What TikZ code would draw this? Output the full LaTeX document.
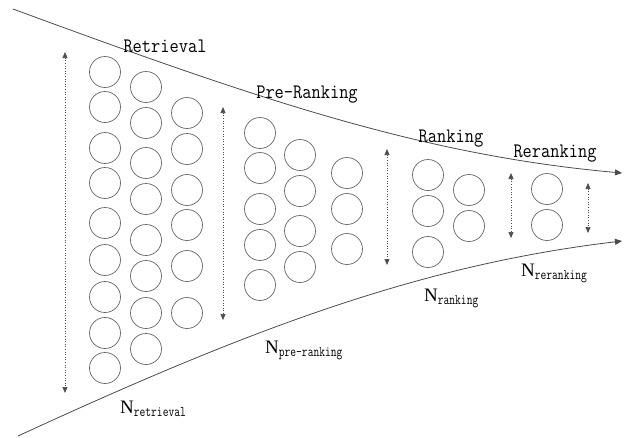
\documentclass[tikz,border=0pt]{standalone}
\usepackage{fontspec}
\setmainfont{Liberation Serif}
\usetikzlibrary{arrows.meta}
\newcommand{\stagetext}[1]{\scalebox{1}[1.15]{\ttfamily\fontsize{17.9}{20}\selectfont #1}}
\newcommand{\counttext}[1]{{\fontsize{19}{20}\selectfont N}\raisebox{-3pt}{\scalebox{1}[1.3]{\ttfamily\fontsize{11.2}{13}\selectfont #1}}}
\begin{document}
\begin{tikzpicture}[x=1pt,y=-1pt,
  ball/.style={circle,draw=black!60,line width=0.7pt,minimum size=31pt,inner sep=0pt},
  funnel/.style={draw=black!70,line width=0.8pt,-{Triangle[length=7pt,width=6pt]}},
  span/.style={draw=black!70,dotted,line width=0.6pt,{Triangle[length=6pt,width=5pt]}-{Triangle[length=6pt,width=5pt]}},
  stage/.style={inner sep=0pt,anchor=base},
  count/.style={inner sep=0pt,anchor=base west}]
\useasboundingbox (0,0) rectangle (624,437);

% funnel borders
\coordinate (ts) at (13,9);
\coordinate (te) at (622,173);
\coordinate (bs) at (18,436);
\coordinate (be) at (622,241);
\draw[funnel] (ts) .. controls (255,98) and (420,155) .. (te);
\draw[funnel] (bs) .. controls (250,329) and (420,265) .. (be);

% items
\foreach \x/\ys [count=\i] in {
  105/{72,107,148,183,223,260,297,333,368},
  146/{87,123,163,199,240,276,313,349},
  187/{113,149,190,225,266,313},
  260/{133,168,209,245,285},
  300/{155,191,231,267},
  347/{173,209,249},
  428/{175,211,252},
  469/{190,226},
  547/{189,225}}
  \foreach \y [count=\j] in \ys
    \node[ball] (c\i-\j) at (\x,\y) {};

% size spans
\coordinate (s1t) at (65,52);  \coordinate (s1b) at (65,393);
\coordinate (s2t) at (223,107); \coordinate (s2b) at (223,320);
\coordinate (s3t) at (387,149); \coordinate (s3b) at (387,265);
\coordinate (s4t) at (511,173); \coordinate (s4b) at (511,238);
\coordinate (s5t) at (588,183); \coordinate (s5b) at (588,233);
\draw[span] (s1t) -- (s1b);
\draw[span] (s2t) -- (s2b);
\draw[span] (s3t) -- (s3b);
\draw[span] (s4t) -- (s4b);
\draw[span] (s5t) -- (s5b);

% stage names
\node[stage] (retr) at (165,52) {\stagetext{Retrieval}};
\node[stage] (pre) at (307,98) {\stagetext{Pre-Ranking}};
\node[stage] (rank) at (451,142) {\stagetext{Ranking}};
\node[stage] (rerank) at (555,157) {\stagetext{Reranking}};

% counts
\node[count] (nretr) at (120,413) {\counttext{retrieval}};
\node[count] (npre) at (265,353) {\counttext{pre-ranking}};
\node[count] (nrank) at (424,301) {\counttext{ranking}};
\node[count] (nrerank) at (521,276) {\counttext{reranking}};
\end{tikzpicture}
\end{document}
